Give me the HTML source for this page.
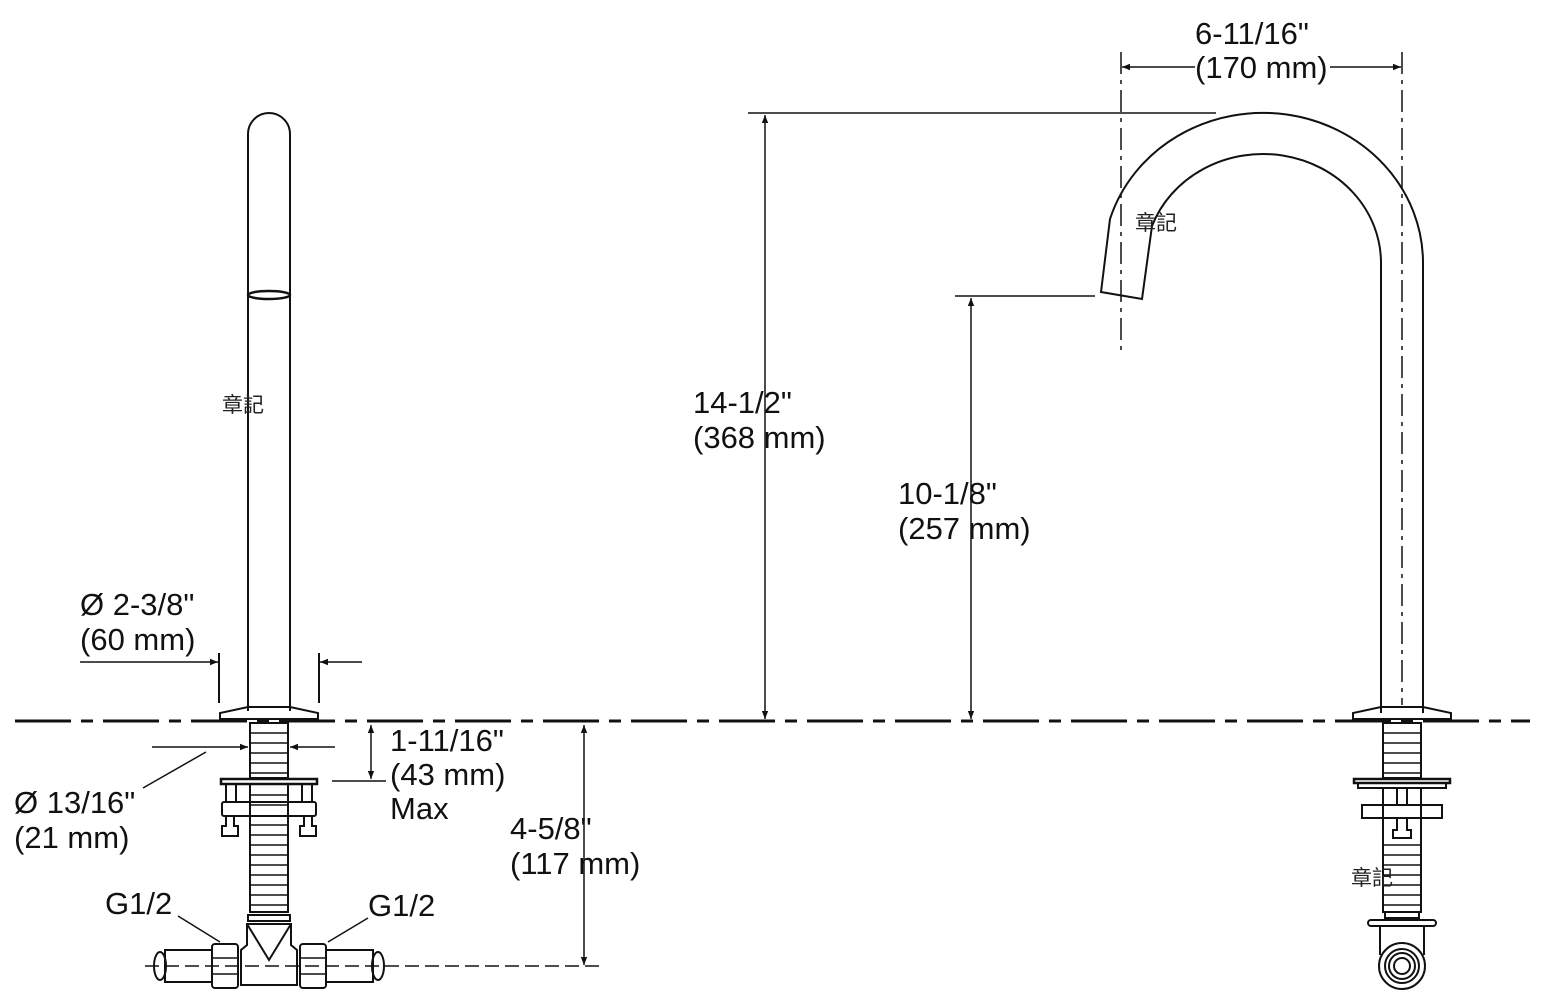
<!DOCTYPE html>
<html><head><meta charset="utf-8"><style>
html,body{margin:0;padding:0;background:#fff}
svg{display:block}
text{font-family:"Liberation Sans",Arial,sans-serif;font-size:31px;fill:#111}
.cj{font-family:"Liberation Sans","Noto Sans CJK TC",sans-serif;font-size:21px;fill:#222}
</style></head><body>
<svg width="1559" height="1005" viewBox="0 0 1559 1005" xmlns="http://www.w3.org/2000/svg">
<defs>
<marker id="a" viewBox="0 0 10 10" refX="10" refY="5" markerWidth="14" markerHeight="8" orient="auto-start-reverse" markerUnits="userSpaceOnUse"><path d="M0,1 L10,5 L0,9 z" fill="#111"/></marker>
</defs>
<g stroke="#111" fill="none" stroke-width="2">
<line x1="15" y1="721" x2="1530" y2="721" stroke-width="3" stroke-dasharray="56,10,12,10"/>

<!-- LEFT FAUCET -->
<path d="M248,711 V134 A21,21 0 0 1 290,134 V711"/>
<ellipse cx="269" cy="295" rx="21" ry="4" stroke-width="2.5"/>
<path d="M220,719 V713 L248,707 H290 L318,713 V719 Z"/>
<rect x="250" y="723" width="38" height="55"/>
<g stroke-width="1.5"><line x1="250" y1="733" x2="288" y2="733"/><line x1="250" y1="743" x2="288" y2="743"/><line x1="250" y1="753" x2="288" y2="753"/><line x1="250" y1="763" x2="288" y2="763"/><line x1="250" y1="773" x2="288" y2="773"/></g>
<rect x="221" y="779" width="96" height="5" stroke-width="2.5"/>
<rect x="226" y="784" width="10" height="18"/><rect x="302" y="784" width="10" height="18"/>
<rect x="222" y="802" width="94" height="14" rx="2"/>
<path d="M226,816 V826 H222 V836 H238 V826 H234 V816"/><path d="M304,816 V826 H300 V836 H316 V826 H312 V816"/>
<rect x="250" y="784" width="38" height="128"/>
<g stroke-width="1.5"><line x1="250" y1="795" x2="288" y2="795"/><line x1="250" y1="805" x2="288" y2="805"/><line x1="250" y1="825" x2="288" y2="825"/><line x1="250" y1="835" x2="288" y2="835"/><line x1="250" y1="845" x2="288" y2="845"/><line x1="250" y1="855" x2="288" y2="855"/><line x1="250" y1="865" x2="288" y2="865"/><line x1="250" y1="875" x2="288" y2="875"/><line x1="250" y1="885" x2="288" y2="885"/><line x1="250" y1="895" x2="288" y2="895"/><line x1="250" y1="905" x2="288" y2="905"/></g>
<rect x="248" y="915" width="42" height="6"/>
<path d="M247,924 H291 V945 L297,950 V985 H241 V950 L247,945 Z"/>
<path d="M247,924 L269,960 L291,924"/>
<rect x="212" y="944" width="26" height="44" rx="3"/><rect x="300" y="944" width="26" height="44" rx="3"/>
<line x1="212" y1="958" x2="238" y2="958" stroke-width="1.5"/><line x1="212" y1="974" x2="238" y2="974" stroke-width="1.5"/>
<line x1="300" y1="958" x2="326" y2="958" stroke-width="1.5"/><line x1="300" y1="974" x2="326" y2="974" stroke-width="1.5"/>
<rect x="165" y="950" width="47" height="32"/><rect x="326" y="950" width="47" height="32"/>
<ellipse cx="160" cy="966" rx="6" ry="14"/><ellipse cx="378" cy="966" rx="6" ry="14"/>
<line x1="145" y1="966" x2="600" y2="966" stroke-width="1.5" stroke-dasharray="14,6"/>

<line x1="219" y1="653" x2="219" y2="703"/><line x1="319" y1="653" x2="319" y2="703"/>
<line x1="80" y1="662" x2="218" y2="662" stroke-width="1.5" marker-end="url(#a)"/>
<line x1="362" y1="662" x2="320" y2="662" stroke-width="1.5" marker-end="url(#a)"/>
<line x1="152" y1="747" x2="248" y2="747" stroke-width="1.5" marker-end="url(#a)"/>
<line x1="335" y1="747" x2="290" y2="747" stroke-width="1.5" marker-end="url(#a)"/>
<line x1="143" y1="788" x2="206" y2="752" stroke-width="1.5"/>
<line x1="371" y1="725" x2="371" y2="779" stroke-width="1.5" marker-start="url(#a)" marker-end="url(#a)"/>
<line x1="332" y1="781" x2="386" y2="781" stroke-width="1.5"/>
<line x1="584" y1="725" x2="584" y2="965" stroke-width="1.5" marker-start="url(#a)" marker-end="url(#a)"/>
<line x1="178" y1="916" x2="220" y2="942" stroke-width="1.5"/>
<line x1="368" y1="918" x2="328" y2="942" stroke-width="1.5"/>

<!-- RIGHT FAUCET -->
<path d="M1423,713 V263 A160,150 0 0 0 1110,219 L1101,292 L1142,299 L1152,226 A118,109 0 0 1 1381,263 V713"/>
<path d="M1353,719 V713 L1381,707 H1423 L1451,713 V719 Z"/>
<rect x="1383" y="723" width="38" height="55"/>
<g stroke-width="1.5"><line x1="1383" y1="733" x2="1421" y2="733"/><line x1="1383" y1="743" x2="1421" y2="743"/><line x1="1383" y1="753" x2="1421" y2="753"/><line x1="1383" y1="763" x2="1421" y2="763"/><line x1="1383" y1="773" x2="1421" y2="773"/></g>
<rect x="1354" y="779" width="96" height="4" stroke-width="2.5"/>
<rect x="1358" y="783" width="88" height="5"/>
<rect x="1383" y="788" width="38" height="124"/>
<rect x="1397" y="788" width="10" height="17"/>
<path d="M1362,805 H1442 V818 H1362 Z"/>
<path d="M1397,818 V830 H1393 V838 H1411 V830 H1407 V818"/>
<g stroke-width="1.5"><line x1="1383" y1="845" x2="1421" y2="845"/><line x1="1383" y1="855" x2="1421" y2="855"/><line x1="1383" y1="865" x2="1421" y2="865"/><line x1="1383" y1="875" x2="1421" y2="875"/><line x1="1383" y1="885" x2="1421" y2="885"/><line x1="1383" y1="895" x2="1421" y2="895"/><line x1="1383" y1="905" x2="1421" y2="905"/></g>
<rect x="1385" y="912" width="34" height="6"/>
<rect x="1368" y="920" width="68" height="6" rx="3"/>
<path d="M1380,926 V955 M1424,926 V955"/>
<circle cx="1402" cy="966" r="23"/><circle cx="1402" cy="966" r="17"/><circle cx="1402" cy="966" r="13"/><circle cx="1402" cy="966" r="8"/>

<line x1="1121" y1="52" x2="1121" y2="352" stroke-width="1.5" stroke-dasharray="22,6,4,6"/>
<line x1="1402" y1="52" x2="1402" y2="705" stroke-width="1.5" stroke-dasharray="22,6,4,6"/>
<line x1="1195" y1="67" x2="1122" y2="67" stroke-width="1.5" marker-end="url(#a)"/>
<line x1="1330" y1="67" x2="1401" y2="67" stroke-width="1.5" marker-end="url(#a)"/>
<line x1="748" y1="113" x2="1216" y2="113" stroke-width="1.5"/>
<line x1="765" y1="115" x2="765" y2="719" stroke-width="1.5" marker-start="url(#a)" marker-end="url(#a)"/>
<line x1="955" y1="296" x2="1095" y2="296" stroke-width="1.5"/>
<line x1="971" y1="298" x2="971" y2="719" stroke-width="1.5" marker-start="url(#a)" marker-end="url(#a)"/>
</g>
<text x="1195" y="44">6-11/16"</text>
<text x="1195" y="78">(170 mm)</text>
<text x="693" y="413">14-1/2"</text>
<text x="693" y="448">(368 mm)</text>
<text x="898" y="504">10-1/8"</text>
<text x="898" y="539">(257 mm)</text>
<text x="80" y="615">Ø 2-3/8"</text>
<text x="80" y="650">(60 mm)</text>
<text x="390" y="751">1-11/16"</text>
<text x="390" y="785">(43 mm)</text>
<text x="390" y="819">Max</text>
<text x="14" y="813">Ø 13/16"</text>
<text x="14" y="848">(21 mm)</text>
<text x="510" y="839">4-5/8"</text>
<text x="510" y="874">(117 mm)</text>
<text x="105" y="914">G1/2</text>
<text x="368" y="916">G1/2</text>
<text class="cj" x="222" y="412">章記</text>
<text class="cj" x="1135" y="230">章記</text>
<text class="cj" x="1351" y="885">章記</text>
</svg>
</body></html>
